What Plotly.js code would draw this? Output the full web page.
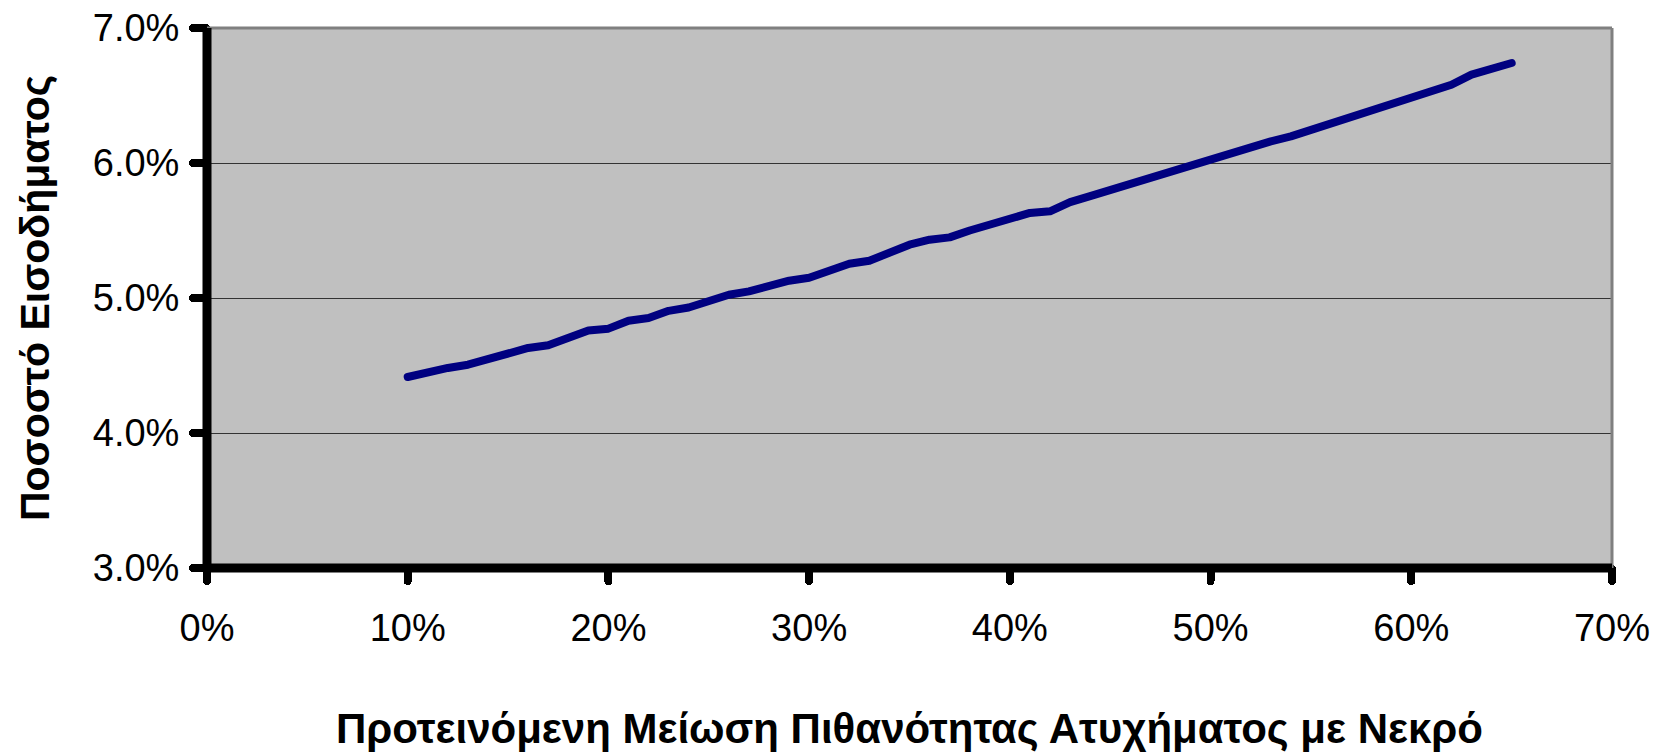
<!DOCTYPE html>
<html>
<head>
<meta charset="utf-8">
<script src="https://cdn.plot.ly/plotly-3.0.1.min.js"></script>
<style>
html,body{margin:0;padding:0;background:#fff;}
#chart{width:1659px;height:756px;}
#chart .scatterlayer path.js-line{stroke-linecap:round;stroke-linejoin:round;}
#chart path.ticks{stroke-linecap:round;}
</style>
</head>
<body>
<div id="chart"></div>
<script>
// Proposed reduction in probability of fatal accident (%)
const reduction = [10,11,12,13,14,15,16,17,18,19,20,21,22,23,24,25,26,27,28,29,30,31,32,33,34,35,36,37,38,39,40,41,42,43,44,45,46,47,48,49,50,51,52,53,54,55,56,57,58,59,60,61,62,63,64,65];
// Income percentage (%)
const incomePct = [4.415,4.456,4.482,4.506,4.545,4.580,4.630,4.650,4.710,4.760,4.773,4.832,4.852,4.905,4.930,4.977,5.024,5.049,5.090,5.128,5.150,5.200,5.254,5.276,5.340,5.395,5.432,5.449,5.500,5.543,5.585,5.630,5.642,5.710,5.755,5.800,5.850,5.900,5.938,5.990,6.040,6.075,6.120,6.160,6.197,6.245,6.295,6.345,6.395,6.445,6.490,6.530,6.580,6.655,6.700,6.741];
const xTickVals = [0,10,20,30,40,50,60,70];
const xTickText = ['0%','10%','20%','30%','40%','50%','60%','70%'];
const yTickVals = [3,4,5,6,7];
const yTickText = ['3.0%','4.0%','5.0%','6.0%','7.0%'];
const xTitle = 'Προτεινόμενη Μείωση Πιθανότητας Ατυχήματος με Νεκρό';
const yTitle = 'Ποσοστό Εισοδήματος';

const FONT = 'Liberation Sans, Arial, sans-serif';

const trace = {
  x: reduction, y: incomePct, type: 'scatter', mode: 'lines',
  line: {color: '#000080', width: 8},
  hoverinfo: 'skip'
};

const layout = {
  width: 1659, height: 756,
  margin: {l: 207, r: 47, t: 28, b: 188},
  paper_bgcolor: '#ffffff',
  plot_bgcolor: '#c0c0c0',
  showlegend: false,
  font: {family: FONT, color: '#000'},
  xaxis: {
    range: [0, 70], tickvals: xTickVals, ticktext: xTickText,
    ticks: 'outside', ticklen: 12, tickwidth: 8, tickcolor: '#000',
    ticklabelstandoff: 14,
    showgrid: false, zeroline: false, showline: false,
    tickfont: {family: FONT, size: 38, color: '#000'},
    title: {text: xTitle, font: {family: FONT, size: 42, color: '#000', weight: 'bold'}, standoff: 66},
    automargin: false, fixedrange: true
  },
  yaxis: {
    range: [3, 7], tickvals: yTickVals, ticktext: yTickText,
    ticks: 'outside', ticklen: 13, tickwidth: 8, tickcolor: '#000',
    ticklabelstandoff: 6,
    showgrid: true, gridcolor: '#333333', gridwidth: 1,
    zeroline: false, showline: false,
    tickfont: {family: FONT, size: 38, color: '#000'},
    title: {text: yTitle, font: {family: FONT, size: 41, color: '#000', weight: 'bold'}, standoff: 30},
    automargin: false, fixedrange: true
  },
  shapes: [
    {type: 'line', xref: 'paper', yref: 'paper', x0: 0, x1: 1, y0: 1, y1: 1, line: {color: '#808080', width: 3}},
    {type: 'line', xref: 'paper', yref: 'paper', x0: 1, x1: 1, y0: 0, y1: 1, line: {color: '#808080', width: 3}},
    {type: 'line', xref: 'paper', yref: 'paper', x0: 0, x1: 0, y0: 0, y1: 1, line: {color: '#000', width: 9}},
    {type: 'line', xref: 'paper', yref: 'paper', x0: 0, x1: 1, y0: 0, y1: 0, line: {color: '#000', width: 9}}
  ]
};

Plotly.newPlot('chart', [trace], layout, {displayModeBar: false, staticPlot: true});
</script>
</body>
</html>
